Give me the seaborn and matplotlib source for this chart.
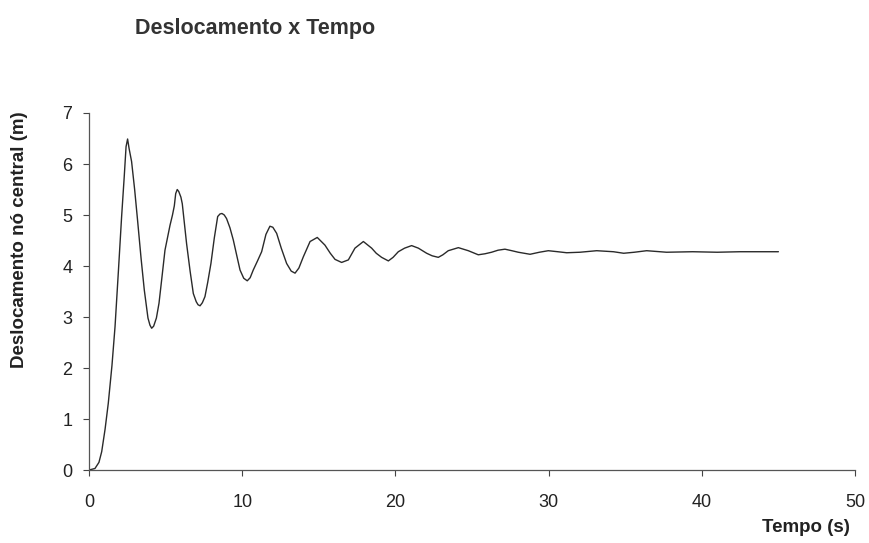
import matplotlib
matplotlib.use("Agg")
import matplotlib.pyplot as plt
import seaborn as sns
import pandas as pd

# values
tempo = [0.00, 0.39, 0.65, 0.83, 1.05, 1.26, 1.50, 1.70, 1.92, 2.13, 2.30, 2.42, 2.52,
         2.62, 2.78, 2.98, 3.17, 3.40, 3.61, 3.85, 3.98, 4.09, 4.22, 4.40, 4.57, 4.77,
         4.96, 5.29, 5.45, 5.57, 5.66, 5.76, 5.86, 6.00, 6.09, 6.37, 6.60, 6.81, 7.00,
         7.12, 7.25, 7.40, 7.57, 7.75, 7.96, 8.18, 8.40, 8.55, 8.68, 8.83, 8.98, 9.20,
         9.42, 9.65, 9.86, 10.10, 10.33, 10.52, 10.72, 11.00, 11.27, 11.55, 11.81, 12.00,
         12.25, 12.55, 12.90, 13.20, 13.45, 13.70, 13.99, 14.43, 14.90, 15.40, 15.75,
         16.06, 16.49, 16.93, 17.36, 17.91, 18.45, 18.75, 19.10, 19.54, 19.85, 20.19,
         20.60, 21.06, 21.50, 22.04, 22.40, 22.80, 23.10, 23.45, 24.11, 24.76, 25.41,
         25.85, 26.28, 26.70, 27.15, 27.60, 28.02, 28.79, 29.40, 29.98, 30.60, 31.18,
         32.05, 33.14, 34.23, 34.90, 35.60, 36.40, 37.70, 39.40, 41.00, 42.50, 45.00]
deslocamento = [0.00, 0.03, 0.15, 0.36, 0.80, 1.31, 2.05, 2.81, 3.90, 4.97, 5.75, 6.34, 6.49,
                6.30, 6.05, 5.50, 4.90, 4.15, 3.53, 2.98, 2.84, 2.78, 2.82, 2.98, 3.27, 3.80,
                4.31, 4.80, 5.00, 5.18, 5.42, 5.50, 5.46, 5.35, 5.22, 4.44, 3.90, 3.46, 3.30,
                3.24, 3.22, 3.28, 3.40, 3.68, 4.05, 4.55, 4.97, 5.02, 5.03, 5.00, 4.93, 4.75,
                4.51, 4.20, 3.92, 3.76, 3.71, 3.77, 3.92, 4.10, 4.28, 4.62, 4.78, 4.76,
                4.64, 4.35, 4.05, 3.90, 3.86, 3.96, 4.18, 4.48, 4.56, 4.41, 4.25,
                4.13, 4.07, 4.12, 4.35, 4.48, 4.35, 4.25, 4.17, 4.10, 4.17, 4.28,
                4.35, 4.40, 4.35, 4.25, 4.20, 4.17, 4.22, 4.30, 4.36, 4.30, 4.22,
                4.24, 4.27, 4.31, 4.33, 4.30, 4.27, 4.23, 4.27, 4.30, 4.28, 4.26,
                4.27, 4.30, 4.28, 4.25, 4.27, 4.30, 4.27, 4.28, 4.27, 4.28, 4.28]
x_ticks = [0, 10, 20, 30, 40, 50]
y_ticks = [0, 1, 2, 3, 4, 5, 6, 7]

df = pd.DataFrame({"Tempo": tempo, "Deslocamento": deslocamento})

sns.set_style("ticks")
plt.rcParams["font.family"] = ["Liberation Sans", "DejaVu Sans"]

fig = plt.figure(figsize=(8.69, 5.43), dpi=100)
ax = fig.add_axes([0.1024, 0.1344, 0.8815, 0.6575])

sns.lineplot(data=df, x="Tempo", y="Deslocamento", color="#2a2a2a", linewidth=1.0, ax=ax)

ax.set_xlim(0, 50)
ax.set_ylim(0, 7)
ax.set_xticks(x_ticks)
ax.set_yticks(y_ticks)
ax.tick_params(labelsize=13, length=4, width=0.8, colors="#444444", labelcolor="#222222")
ax.tick_params(axis="x", pad=13)
ax.tick_params(axis="y", pad=8)
for side in ["top", "right"]:
    ax.spines[side].set_visible(False)
for side in ["left", "bottom"]:
    ax.spines[side].set_color("#555555")
    ax.spines[side].set_linewidth(0.9)
ax.set_xlabel("")
ax.set_ylabel("")

fig.text(0.155, 0.947, "Deslocamento x Tempo", fontsize=15.5, fontweight="bold",
         color="#333333", ha="left", va="center")
fig.text(0.023, 0.558, "Deslocamento nó central (m)", fontsize=13.5, fontweight="bold",
         color="#222222", rotation=90, ha="center", va="center")
fig.text(0.9275, 0.028, "Tempo (s)", fontsize=13.5, fontweight="bold",
         color="#222222", ha="center", va="center")

fig.savefig("out.png", dpi=100)
